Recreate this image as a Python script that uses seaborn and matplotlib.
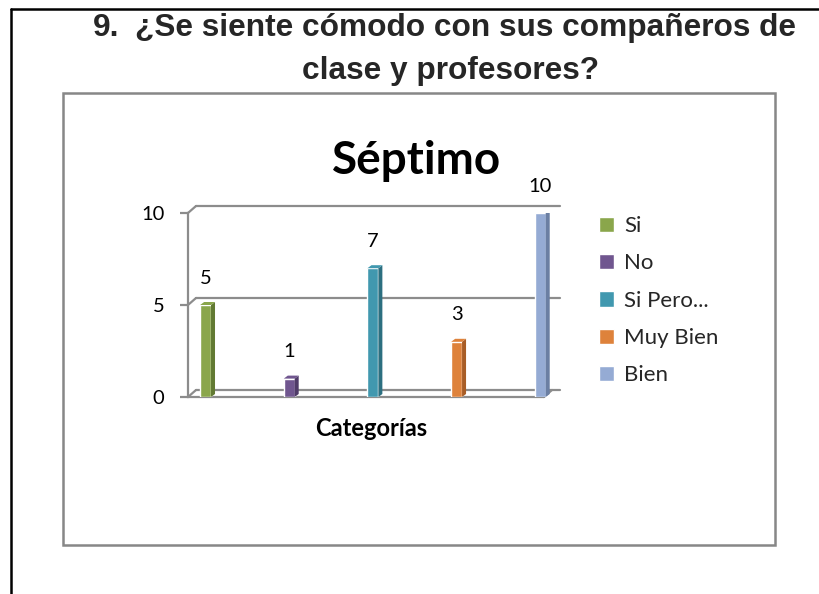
import matplotlib
matplotlib.use("Agg")
import matplotlib.pyplot as plt
import seaborn as sns
import pandas as pd
from matplotlib.patches import Rectangle, Polygon
from matplotlib.lines import Line2D
import matplotlib.transforms as mtransforms

categories = ["Si", "No", "Si Pero...", "Muy Bien", "Bien"]
values = [5, 1, 7, 3, 10]
colors = ["#8AA64B", "#70568F", "#4198AF", "#DE823B", "#95ABD4"]
side_colors = ["#627A33", "#4F3B68", "#2C6F80", "#A85D26", "#6B7FA3"]
yticks = [0, 5, 10]
title_num = "9."
title_line1 = "¿Se siente cómodo con sus compañeros de"
title_line2 = "clase y profesores?"
chart_title = "Séptimo"
xlabel = "Categorías"

W, H = 820, 594
sns.set_theme(style="white")
plt.rcParams["font.family"] = ["Lato", "DejaVu Sans"]

fig = plt.figure(figsize=(W / 100, H / 100), dpi=100)
inv = fig.transFigure.inverted()


def fx(x):
    return x / W


def fy(y):
    return 1 - y / H


# page border (left and top)
fig.add_artist(Line2D([fx(11), fx(11)], [fy(9), 0], color="black", lw=1.8,
                      transform=fig.transFigure))
fig.add_artist(Line2D([fx(11), 1], [fy(9), fy(9)], color="black", lw=1.8,
                      transform=fig.transFigure))

# chart frame
fig.add_artist(Rectangle((fx(63), fy(545)), fx(775) - fx(63), fy(93) - fy(545),
                         fill=False, edgecolor="#878787", lw=1.8,
                         transform=fig.transFigure))

# main document title
tf = {"family": ["Liberation Sans", "DejaVu Sans"], "weight": "bold", "size": 22.8}
fig.text(fx(93), fy(28), title_num, ha="left", va="center", fontdict=tf)
fig.text(fx(135), fy(28), title_line1, ha="left", va="center", fontdict=tf)
fig.text(fx(451), fy(71), title_line2, ha="center", va="center", fontdict=tf)

# plot area (front plane)
x0, x1, ytop, ybot = 188, 552, 213, 397
ax = fig.add_axes([fx(x0), fy(ybot), fx(x1) - fx(x0), fy(ytop) - fy(ybot)])
ax.patch.set_alpha(0)

df = pd.DataFrame({"cat": categories, "val": values})
sns.barplot(data=df, x="cat", y="val", hue="cat", palette=colors,
            order=categories, hue_order=categories, width=0.13,
            legend=True, ax=ax, saturation=1)

ax.set_xlim(-0.21, 4.14)
ax.set_ylim(0, 10)
ax.set_yticks(yticks)
ax.set_xticks([])
ax.set_xlabel("")
ax.set_ylabel("")
for s in ["top", "right", "bottom"]:
    ax.spines[s].set_visible(False)
grid_c = "#8C8C8C"
ax.spines["left"].set_color(grid_c)
ax.spines["left"].set_linewidth(1.6)
ax.tick_params(axis="y", length=6, width=1.6, color=grid_c, left=True,
               labelsize=14.5, pad=11, labelcolor="black")

# 3D-ish back wall gridlines and floor
dxp, dyp = 8, 7
off = mtransforms.ScaledTranslation(dxp / 100, dyp / 100, fig.dpi_scale_trans)
for yv in yticks:
    ax.plot([0, 1.0], [yv, yv], transform=ax.get_yaxis_transform() + off,
            color=grid_c, lw=1.6, clip_on=False, zorder=0)
floor_end = 0.978
ax.plot([0, floor_end], [0, 0], transform=ax.get_yaxis_transform(),
        color=grid_c, lw=1.6, clip_on=False, zorder=0)

fig.canvas.draw()
starts = [ax.transData.transform((ax.get_xlim()[0], yv)) for yv in yticks]
starts.append(ax.transAxes.transform((floor_end, 0)))
for px, py in starts:
    a = inv.transform((px, py))
    b = inv.transform((px + dxp, py + dyp))
    fig.add_artist(Line2D([a[0], b[0]], [a[1], b[1]], color=grid_c, lw=1.6,
                          transform=fig.transFigure, zorder=0))

# 3D faces of bars + value labels
ppx = (x1 - x0) / (ax.get_xlim()[1] - ax.get_xlim()[0])
ppy = (ybot - ytop) / 10
ddx, ddy = 4 / ppx, 3 / ppy
for i, p in enumerate(ax.patches[:len(values)]):
    bx0 = p.get_x()
    bw = p.get_width()
    h = p.get_height()
    bx1 = bx0 + bw
    side = Polygon([(bx1, 0), (bx1 + ddx, ddy), (bx1 + ddx, h + ddy), (bx1, h)],
                   closed=True, facecolor=side_colors[i], edgecolor="none", zorder=3)
    top = Polygon([(bx0, h), (bx0 + ddx, h + ddy), (bx1 + ddx, h + ddy), (bx1, h)],
                  closed=True, facecolor=colors[i], edgecolor="none", zorder=3)
    ax.add_patch(side)
    ax.add_patch(top)
    ax.text(bx0 + bw / 2, h + 1.0, str(values[i]), ha="center", va="bottom",
            fontsize=14.5, color="black")

# legend
leg = ax.legend(loc="upper left", bbox_to_anchor=(fx(599), fy(216)),
                bbox_transform=fig.transFigure, frameon=False, fontsize=16,
                handlelength=0.68, handleheight=0.68, handletextpad=0.45,
                labelspacing=0.78, borderaxespad=0, borderpad=0)

fig.text(fx(417), fy(161), chart_title, ha="center", va="center",
         fontsize=33, fontweight="bold", color="black")
fig.text(fx(371), fy(428), xlabel, ha="center", va="center",
         fontsize=17, fontweight="bold", color="black")

fig.savefig("out.png", dpi=100)
